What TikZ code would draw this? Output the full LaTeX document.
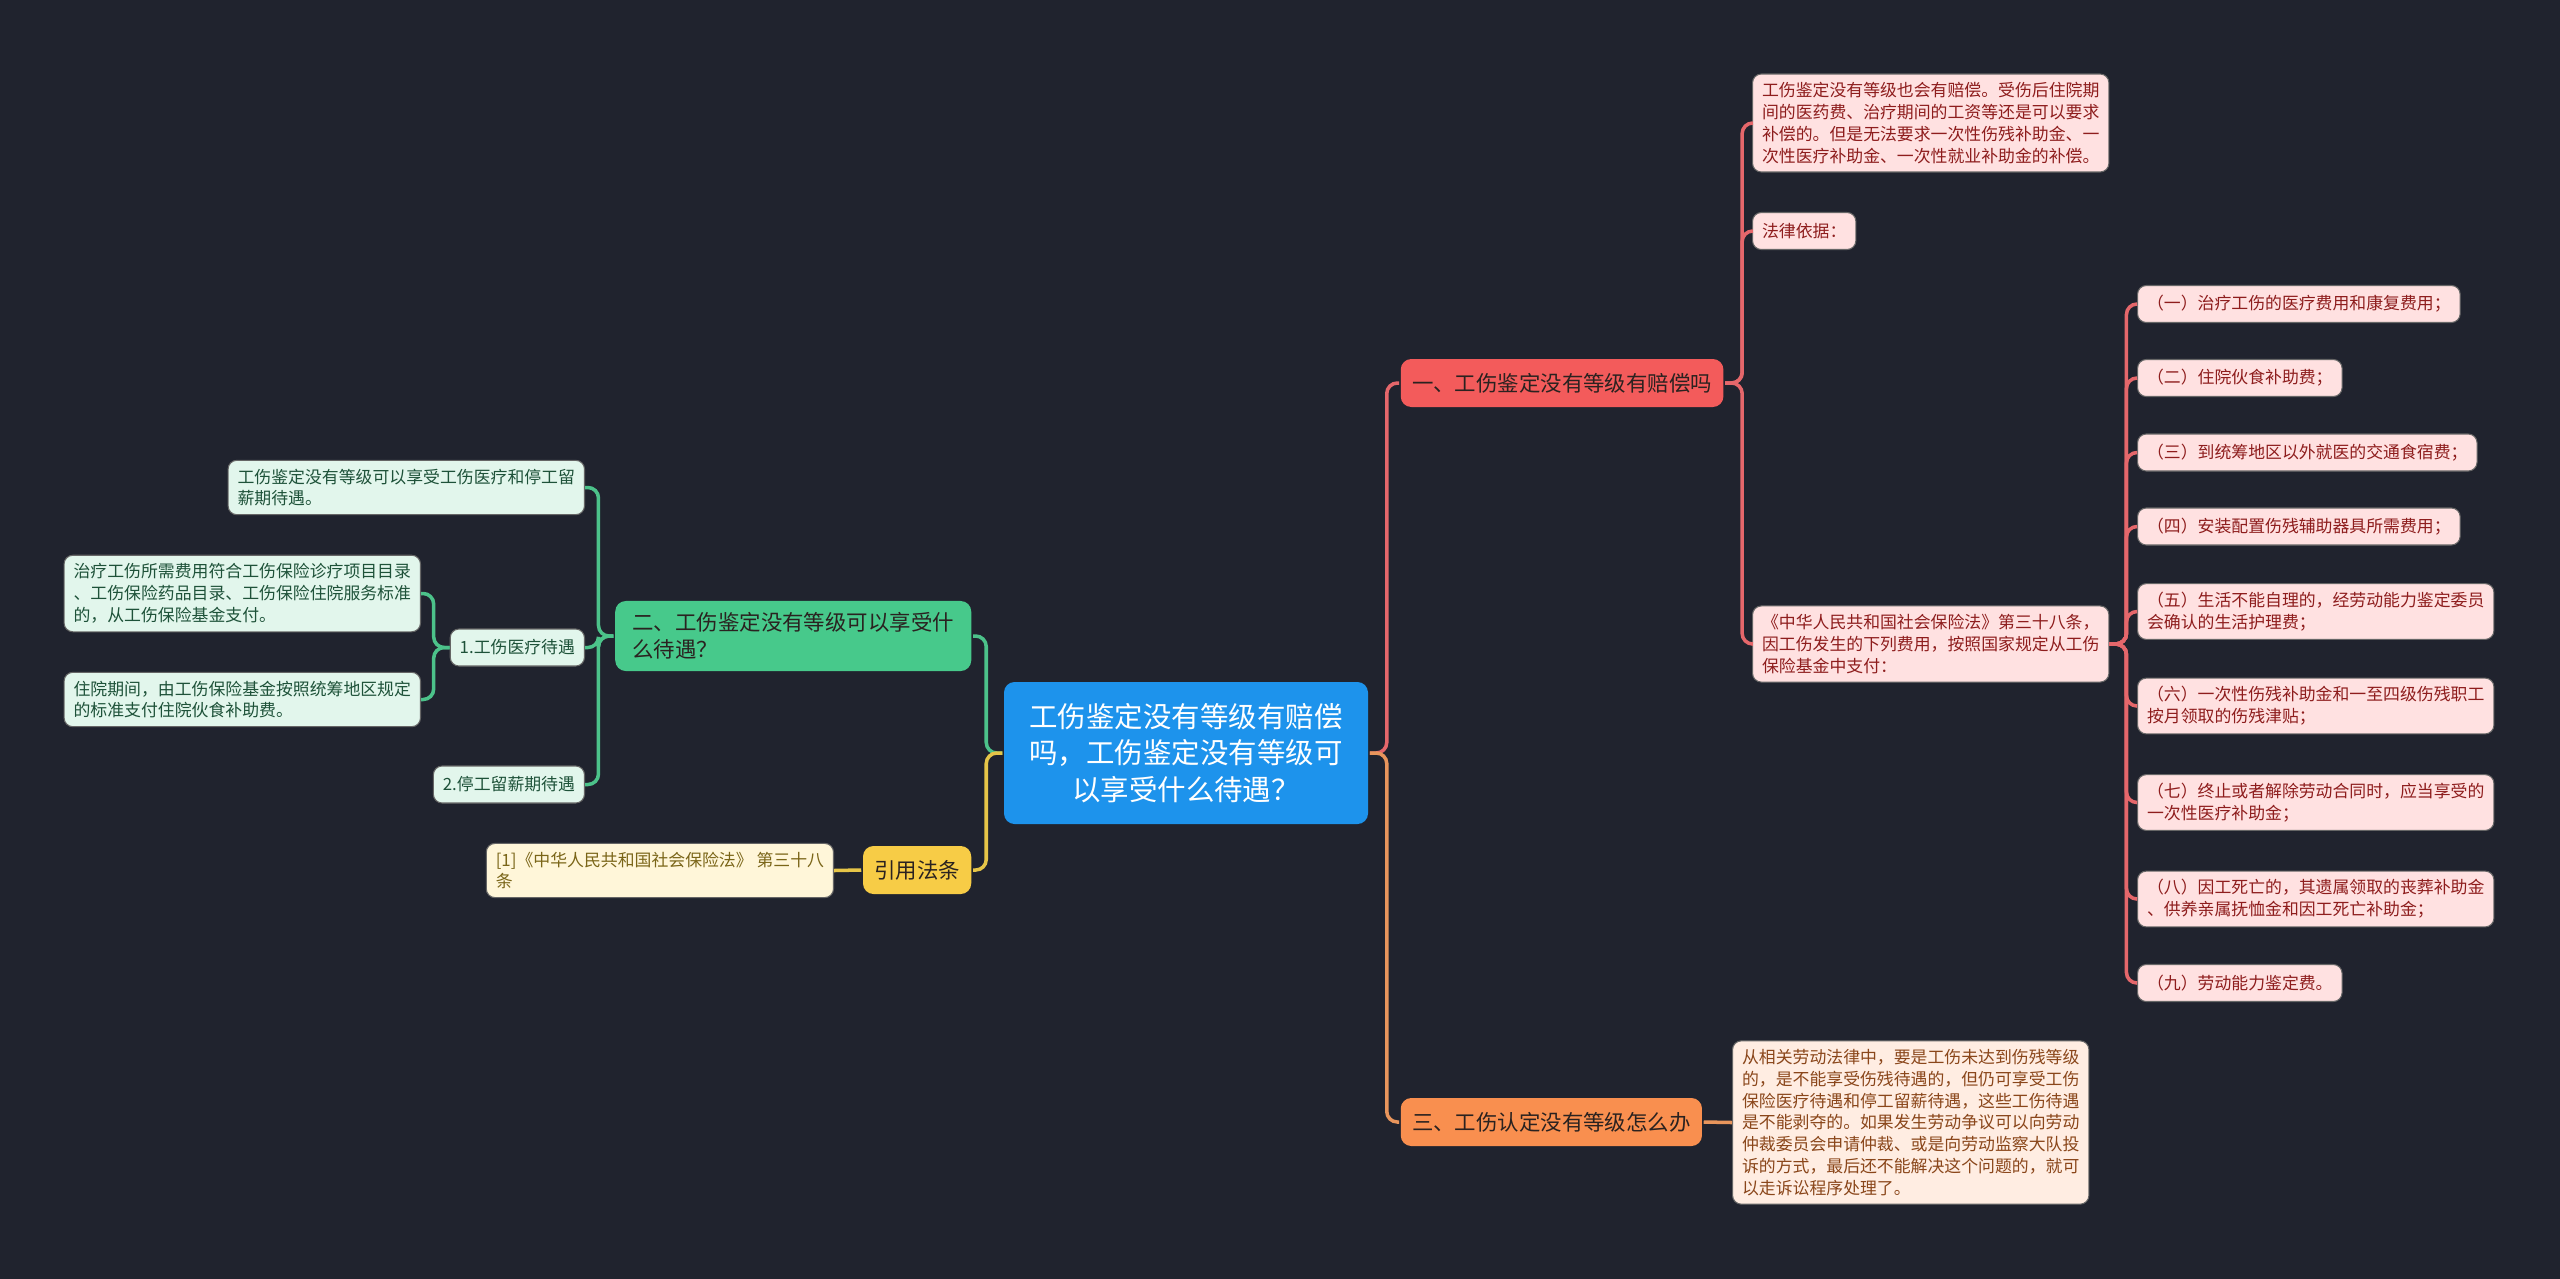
\documentclass[tikz,border=0pt]{standalone}
\usepackage{fontspec}
\setmainfont{Noto Sans CJK SC}
\definecolor{cbg}{HTML}{20232E}
\definecolor{croot}{HTML}{1D93EC}
\definecolor{cred}{HTML}{F35B5B}
\definecolor{credlk}{HTML}{E5676B}
\definecolor{cpink}{HTML}{FFE1E1}
\definecolor{cpinktx}{HTML}{8E1D1D}
\definecolor{cgreen}{HTML}{47C98B}
\definecolor{cgreenlk}{HTML}{4CC28A}
\definecolor{cmint}{HTML}{E2F6EC}
\definecolor{cminttx}{HTML}{1E5239}
\definecolor{corange}{HTML}{F98F4F}
\definecolor{corangelk}{HTML}{E8955C}
\definecolor{cpeach}{HTML}{FFEDE2}
\definecolor{cpeachtx}{HTML}{8A461A}
\definecolor{cyellow}{HTML}{F7CC46}
\definecolor{cyellowlk}{HTML}{E6C548}
\definecolor{ccream}{HTML}{FFF6D9}
\definecolor{ccreamtx}{HTML}{7A6518}
\definecolor{ctopictx}{HTML}{2A2220}
\tikzset{
  every picture/.style={line width=1pt},
  topic/.style={fill=#1, rounded corners=3pt, align=left, inner xsep=3.2pt, minimum height=0.48cm,
    font=\fontsize{6.1}{7.6}\selectfont, text=ctopictx},
  leaf/.style={rounded corners=2.5pt, align=left, inner xsep=2.7pt, inner ysep=2.4pt, minimum height=0.37cm,
    font=\fontsize{4.8}{6.2}\selectfont, draw=black!60, line width=0.3pt},
  rleaf/.style={leaf, fill=cpink, text=cpinktx},
  gleaf/.style={leaf, fill=cmint, text=cminttx},
  oleaf/.style={leaf, fill=cpeach, text=cpeachtx},
  yleaf/.style={leaf, fill=ccream, text=ccreamtx},
  link/.style={draw=#1, rounded corners=3pt, line width=1pt},
}

\begin{document}
\begin{tikzpicture}
  \useasboundingbox (0,0) rectangle (25.6,-12.78);
  \fill[cbg] (-0.2,0.2) rectangle (25.8,-13);
  \node[fill=croot, text=white, rounded corners=3pt, align=center, minimum width=3.64cm, minimum height=1.42cm,
        font=\fontsize{8.1}{10.4}\selectfont] (root) at (11.86,-7.53)
        {工伤鉴定没有等级有赔偿\\吗，工伤鉴定没有等级可\\以享受什么待遇？};
  % right side
  \node[topic=cred, anchor=west] (b1) at (13.99,-3.83) {一、工伤鉴定没有等级有赔偿吗};
  \node[topic=corange, anchor=west] (b3) at (13.99,-11.22) {三、工伤认定没有等级怎么办};
  \draw[link=credlk] (root.east) -- ++(0.17,0) |- (b1.west);
  \draw[link=corangelk] (root.east) -- ++(0.17,0) |- (b3.west);
  \node[rleaf, anchor=west] (la) at (17.52,-1.23) {工伤鉴定没有等级也会有赔偿。受伤后住院期\\间的医药费、治疗期间的工资等还是可以要求\\补偿的。但是无法要求一次性伤残补助金、一\\次性医疗补助金、一次性就业补助金的补偿。};
  \node[rleaf, anchor=west] (lb) at (17.52,-2.31) {法律依据：};
  \node[rleaf, anchor=west] (lc) at (17.52,-6.44) {《中华人民共和国社会保险法》第三十八条，\\因工伤发生的下列费用，按照国家规定从工伤\\保险基金中支付：};
  \foreach \n in {la, lb, lc} \draw[link=credlk] (b1.east) -- ++(0.17,0) |- (\n.west);
  \foreach \t/\y [count=\i] in {{（一）治疗工伤的医疗费用和康复费用；}/3.04, {（二）住院伙食补助费；}/3.78,
      {（三）到统筹地区以外就医的交通食宿费；}/4.525, {（四）安装配置伤残辅助器具所需费用；}/5.265,
      {（五）生活不能自理的，经劳动能力鉴定委员\\会确认的生活护理费；}/6.115,
      {（六）一次性伤残补助金和一至四级伤残职工\\按月领取的伤残津贴；}/7.06,
      {（七）终止或者解除劳动合同时，应当享受的\\一次性医疗补助金；}/8.025,
      {（八）因工死亡的，其遗属领取的丧葬补助金\\、供养亲属抚恤金和因工死亡补助金；}/8.99,
      {（九）劳动能力鉴定费。}/9.83} {
    \node[rleaf, anchor=west] (c\i) at (21.37,-\y) {\t};
    \draw[link=credlk] (lc.east) -- ++(0.17,0) |- (c\i.west);
  }
  \node[oleaf, anchor=west] (l3) at (17.32,-11.225) {从相关劳动法律中，要是工伤未达到伤残等级\\的，是不能享受伤残待遇的，但仍可享受工伤\\保险医疗待遇和停工留薪待遇，这些工伤待遇\\是不能剥夺的。如果发生劳动争议可以向劳动\\仲裁委员会申请仲裁、或是向劳动监察大队投\\诉的方式，最后还不能解决这个问题的，就可\\以走诉讼程序处理了。};
  \draw[link=corangelk] (b3.east) -- (l3.west);
  % left side
  \node[topic=cgreen, anchor=east, minimum width=3.56cm] (b2) at (9.73,-6.36) {二、工伤鉴定没有等级可以享受什\\么待遇？};
  \node[topic=cyellow, anchor=east] (b4) at (9.73,-8.70) {引用法条};
  \draw[link=cgreenlk] (root.west) -- ++(-0.16,0) |- (b2.east);
  \draw[link=cyellowlk] (root.west) -- ++(-0.16,0) |- (b4.east);
  \node[yleaf, anchor=east] (cite) at (8.34,-8.705) {[1]《中华人民共和国社会保险法》 第三十八\\条};
  \draw[link=cyellowlk] (b4.west) -- (cite.east);
  \node[gleaf, anchor=east] (g1) at (5.85,-4.875) {工伤鉴定没有等级可以享受工伤医疗和停工留\\薪期待遇。};
  \node[gleaf, anchor=east] (g2) at (5.85,-6.475) {1.工伤医疗待遇};
  \node[gleaf, anchor=east] (g3) at (5.85,-7.845) {2.停工留薪期待遇};
  \foreach \n in {g1, g2, g3} \draw[link=cgreenlk] (b2.west) -- ++(-0.15,0) |- (\n.east);
  \node[gleaf, anchor=east] (g21) at (4.21,-5.935) {治疗工伤所需费用符合工伤保险诊疗项目目录\\、工伤保险药品目录、工伤保险住院服务标准\\的，从工伤保险基金支付。};
  \node[gleaf, anchor=east] (g22) at (4.21,-6.995) {住院期间，由工伤保险基金按照统筹地区规定\\的标准支付住院伙食补助费。};
  \foreach \n in {g21, g22} \draw[link=cgreenlk] (g2.west) -- ++(-0.16,0) |- (\n.east);
\end{tikzpicture}
\end{document}
